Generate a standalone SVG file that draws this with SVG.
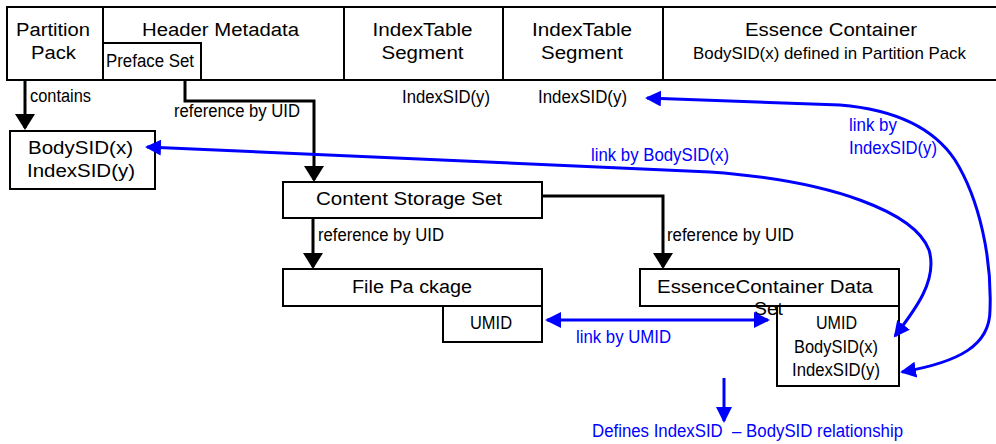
<svg xmlns="http://www.w3.org/2000/svg" width="996" height="444" viewBox="0 0 996 444">
<defs>
<style>
text{font-family:"Liberation Sans",Arial,sans-serif;font-size:18px;fill:#000}
.b{fill:#0000ff}
.box{fill:#fff;stroke:#000;stroke-width:2}
.k{fill:none;stroke:#000;stroke-width:3}
.u{fill:none;stroke:#0000ff;stroke-width:3}
</style>
<marker id="ak" markerUnits="userSpaceOnUse" markerWidth="18" markerHeight="20" refX="14" refY="10" orient="auto"><path d="M0,0 L16,10 L0,20 z" fill="#000"/></marker>
<marker id="ab" markerUnits="userSpaceOnUse" markerWidth="18" markerHeight="18" refX="14" refY="8" orient="auto-start-reverse"><path d="M0,0 L16,8 L0,16 z" fill="#0000ff"/></marker>
</defs>
<rect width="996" height="444" fill="#fff"/>

<g id="top-row">
<rect class="box" x="7" y="7" width="1000" height="73"/>
<line x1="103" y1="7" x2="103" y2="80" stroke="#000" stroke-width="2"/>
<line x1="344" y1="7" x2="344" y2="80" stroke="#000" stroke-width="2"/>
<line x1="503" y1="7" x2="503" y2="80" stroke="#000" stroke-width="2"/>
<line x1="663" y1="7" x2="663" y2="80" stroke="#000" stroke-width="2"/>
</g>
<g id="partition-pack">
<text x="53" y="36" text-anchor="middle" textLength="74" lengthAdjust="spacingAndGlyphs">Partition</text>
<text x="53.5" y="59" text-anchor="middle" textLength="45" lengthAdjust="spacingAndGlyphs">Pack</text>
</g>
<g id="header-metadata">
<text x="220.5" y="36" text-anchor="middle" textLength="157" lengthAdjust="spacingAndGlyphs">Header Metadata</text>
</g>
<g id="preface-set">
<rect class="box" x="103" y="43" width="98" height="37"/>
<text x="106" y="67" textLength="88" lengthAdjust="spacingAndGlyphs">Preface Set</text>
</g>
<g id="indextable-1">
<text x="422.5" y="36" text-anchor="middle" textLength="100" lengthAdjust="spacingAndGlyphs">IndexTable</text>
<text x="422.5" y="59" text-anchor="middle" textLength="82" lengthAdjust="spacingAndGlyphs">Segment</text>
<text x="402" y="103" textLength="88" lengthAdjust="spacingAndGlyphs">IndexSID(y)</text>
</g>
<g id="indextable-2">
<text x="582" y="36" text-anchor="middle" textLength="100" lengthAdjust="spacingAndGlyphs">IndexTable</text>
<text x="582" y="59" text-anchor="middle" textLength="82" lengthAdjust="spacingAndGlyphs">Segment</text>
<text x="538" y="103" textLength="89" lengthAdjust="spacingAndGlyphs">IndexSID(y)</text>
</g>
<g id="essence-container">
<text x="831" y="36" text-anchor="middle" textLength="172" lengthAdjust="spacingAndGlyphs">Essence Container</text>
<text x="829.5" y="59" text-anchor="middle" style="font-size:17px" textLength="273" lengthAdjust="spacingAndGlyphs">BodySID(x) defined in Partition Pack</text>
</g>

<g id="pp-sids">
<rect class="box" x="10" y="131" width="145" height="58"/>
<text x="80.5" y="154" text-anchor="middle" textLength="105" lengthAdjust="spacingAndGlyphs">BodySID(x)</text>
<text x="81" y="177" text-anchor="middle" textLength="108" lengthAdjust="spacingAndGlyphs">IndexSID(y)</text>
</g>
<g id="content-storage-set">
<rect class="box" x="283" y="182" width="259" height="36"/>
<text x="409" y="205" text-anchor="middle" textLength="186" lengthAdjust="spacingAndGlyphs">Content Storage Set</text>
</g>
<g id="file-package">
<rect class="box" x="283" y="269" width="259" height="37"/>
<text x="352" y="293" textLength="120" lengthAdjust="spacingAndGlyphs">File Pa<tspan dx="5">ckage</tspan></text>
</g>
<g id="fp-umid">
<rect class="box" x="443" y="306" width="99" height="36"/>
<text x="491" y="329" text-anchor="middle" textLength="42" lengthAdjust="spacingAndGlyphs">UMID</text>
</g>
<g id="essencecontainer-data-set">
<rect class="box" x="640" y="269" width="259" height="37"/>
<rect class="box" x="777" y="306" width="122" height="80"/>
<text x="765" y="293" text-anchor="middle" textLength="216" lengthAdjust="spacingAndGlyphs">EssenceContainer Data</text>
<text x="768.5" y="315" text-anchor="middle" textLength="29" lengthAdjust="spacingAndGlyphs">Set</text>
<text x="836.5" y="329" text-anchor="middle" textLength="41" lengthAdjust="spacingAndGlyphs">UMID</text>
<text x="836" y="353" text-anchor="middle" textLength="84" lengthAdjust="spacingAndGlyphs">BodySID(x)</text>
<text x="836" y="376" text-anchor="middle" textLength="88" lengthAdjust="spacingAndGlyphs">IndexSID(y)</text>
</g>

<g id="connectors">
<path class="k" d="M25 80 V128" marker-end="url(#ak)"/>
<path class="k" d="M185 80 V101 H314 V180" marker-end="url(#ak)"/>
<path class="k" d="M313 218 V267" marker-end="url(#ak)"/>
<path class="k" d="M542 196 H663 V267" marker-end="url(#ak)"/>
<path class="u" d="M547 320 H768" marker-start="url(#ab)" marker-end="url(#ab)"/>
<path class="u" d="M724 378 V421" marker-end="url(#ab)"/>
<path class="u" d="M147 147 L710 172 C835 181 915 213 929 250 C938 280 915 310 895 336" marker-start="url(#ab)" marker-end="url(#ab)"/>
<path class="u" d="M647 98 L840 105 C900 110 935 130 955 160 C980 200 992 260 990 310 C990 345 960 362 902 372" marker-start="url(#ab)" marker-end="url(#ab)"/>
</g>

<g id="labels">
<text x="30" y="102" textLength="61" lengthAdjust="spacingAndGlyphs">contains</text>
<text x="174" y="117" textLength="126" lengthAdjust="spacingAndGlyphs">reference by UID</text>
<text x="318" y="241" textLength="126" lengthAdjust="spacingAndGlyphs">reference by UID</text>
<text x="667" y="241" textLength="127" lengthAdjust="spacingAndGlyphs">reference by UID</text>
<text class="b" x="591" y="161" textLength="138" lengthAdjust="spacingAndGlyphs">link by BodySID(x)</text>
<text class="b" x="849" y="131" textLength="48" lengthAdjust="spacingAndGlyphs">link by</text>
<text class="b" x="849" y="154" textLength="88" lengthAdjust="spacingAndGlyphs">IndexSID(y)</text>
<text class="b" x="576" y="343" textLength="95" lengthAdjust="spacingAndGlyphs">link by UMID</text>
<text class="b" x="592" y="437" textLength="311" lengthAdjust="spacingAndGlyphs">Defines IndexSID<tspan dx="5"> – BodySID relationship</tspan></text>
</g>
</svg>
